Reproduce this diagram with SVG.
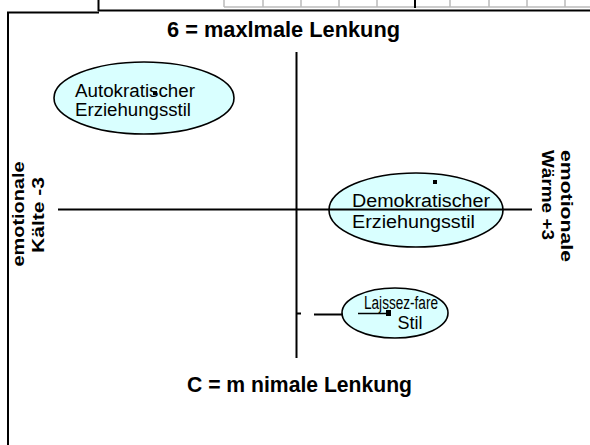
<svg xmlns="http://www.w3.org/2000/svg" width="590" height="445" viewBox="0 0 590 445">
  <style>
    .frame { stroke: #000; stroke-width: 2; fill: none; }
    .grid { stroke: #bbbbbb; stroke-width: 1.5; fill: none; }
    .axis { stroke: #000; stroke-width: 2; fill: none; }
    .bubble { fill: #d9ffff; stroke: #000; stroke-width: 1.6; }
    .label { font-family: "Liberation Sans", Arial, sans-serif; font-size: 18px; fill: #000; }
    .heading { font-family: "Liberation Sans", Arial, sans-serif; font-weight: bold; font-size: 22px; fill: #000; }
    .side { font-family: "Liberation Sans", Arial, sans-serif; font-weight: bold; font-size: 17px; fill: #000; }
  </style>

  <rect width="590" height="445" fill="#fff"/>

  <!-- table remnant along the top edge -->
  <g id="table-edge">
    <line class="grid" x1="224" y1="7" x2="590" y2="7"/>
    <path class="grid" d="M224 0V7M263 0V7M301 0V7M339 0V7M377 0V7M450 0V7M489 0V7M527 0V7M565 0V7"/>
    <line x1="415" y1="0" x2="415" y2="8" stroke="#000" stroke-width="2"/>
    <line class="frame" x1="98.5" y1="0" x2="98.5" y2="11"/>
    <line class="frame" x1="98" y1="10.5" x2="590" y2="10.5"/>
  </g>

  <!-- outer frame -->
  <path class="frame" d="M8 445V12.5H99"/>

  <!-- style bubbles -->
  <g id="autokratisch">
    <ellipse class="bubble" cx="144" cy="98" rx="90" ry="36"/>
    <text class="label" x="75" y="97" textLength="120" lengthAdjust="spacingAndGlyphs">Autokratischer</text>
    <text class="label" x="75" y="116" textLength="116" lengthAdjust="spacingAndGlyphs">Erziehungsstil</text>
    <rect x="153" y="91" width="4" height="4" fill="#000"/>
  </g>

  <g id="demokratisch">
    <ellipse class="bubble" cx="416" cy="210" rx="87" ry="37"/>
    <text class="label" x="352" y="207" textLength="138" lengthAdjust="spacingAndGlyphs">Demokratischer</text>
    <text class="label" x="352" y="228" textLength="123" lengthAdjust="spacingAndGlyphs">Erziehungsstil</text>
    <rect x="433" y="180" width="4" height="4" fill="#000"/>
  </g>

  <g id="laissez-faire">
    <ellipse class="bubble" cx="395" cy="313" rx="53" ry="25"/>
    <text class="label" x="401" y="309" text-anchor="middle" textLength="74" lengthAdjust="spacingAndGlyphs">Lajssez-fare</text>
    <text class="label" x="410" y="329" text-anchor="middle">Stil</text>
    <line x1="358" y1="313.5" x2="389" y2="313.5" stroke="#000" stroke-width="1.5"/>
    <rect x="386" y="310" width="5" height="6" fill="#000"/>
  </g>

  <!-- axes and connectors -->
  <g id="connectors">
    <line class="axis" x1="296.5" y1="52" x2="296.5" y2="358"/>
    <line class="axis" x1="58" y1="209.5" x2="532" y2="209.5"/>
    <line class="axis" x1="296" y1="313.5" x2="301" y2="313.5"/>
    <line class="axis" x1="314" y1="314.5" x2="343" y2="314.5"/>
  </g>

  <!-- axis captions -->
  <g id="captions">
    <text class="heading" x="167" y="37" textLength="233" lengthAdjust="spacingAndGlyphs">6 = maxlmale Lenkung</text>
    <text class="heading" x="187" y="392" textLength="225" lengthAdjust="spacingAndGlyphs">C = m nimale Lenkung</text>
    <text class="side" transform="translate(24 214) rotate(-90)" text-anchor="middle" textLength="105" lengthAdjust="spacingAndGlyphs">emotionale</text>
    <text class="side" transform="translate(44 215) rotate(-90)" text-anchor="middle" textLength="76" lengthAdjust="spacingAndGlyphs">Kälte -3</text>
    <text class="side" transform="translate(561 150) rotate(90)" textLength="112" lengthAdjust="spacingAndGlyphs">emotionale</text>
    <text class="side" transform="translate(542 150) rotate(90)" textLength="90" lengthAdjust="spacingAndGlyphs">Wärme +3</text>
  </g>
</svg>
